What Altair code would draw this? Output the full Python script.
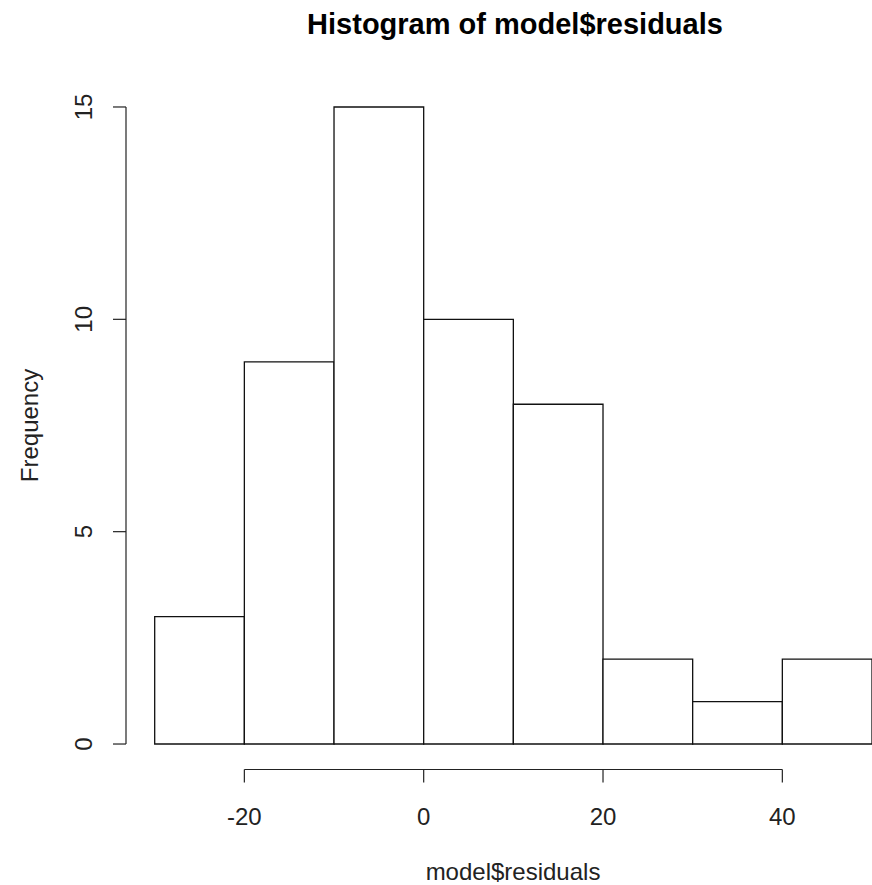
import altair as alt
import pandas as pd

bin_start = [-30, -20, -10, 0, 10, 20, 30, 40]
bin_end = [-20, -10, 0, 10, 20, 30, 40, 50]
counts = [3, 9, 15, 10, 8, 2, 1, 2]
x_ticks = [-20, 0, 20, 40]
y_ticks = [0, 5, 10, 15]

W, H = 746, 688
FONT = "Liberation Sans"
FS = 24

bars_df = pd.DataFrame({"x": bin_start, "x2": bin_end, "n": counts, "z": [0] * len(counts)})
xt_df = pd.DataFrame({"v": x_ticks, "lab": [str(v) for v in x_ticks]})
yt_df = pd.DataFrame({"v": y_ticks, "lab": [str(v) for v in y_ticks]})

xs = alt.Scale(domain=[-33.2, 50.0], nice=False, zero=False)
ys = alt.Scale(domain=[-0.6, 15.6], nice=False, zero=False)

bars = alt.Chart(bars_df).mark_rect(fill="white", stroke="#111", strokeWidth=1.3).encode(
    x=alt.X("x:Q", scale=xs, axis=None),
    x2="x2:Q",
    y=alt.Y("z:Q", scale=ys, axis=None),
    y2="n:Q",
)

# x axis
xline = alt.Chart(pd.DataFrame({"a": [min(x_ticks)], "b": [max(x_ticks)]})).mark_rule(
    color="#222", strokeWidth=1.2).encode(
    x=alt.X("a:Q", scale=xs, axis=None), x2="b:Q", y=alt.value(H))
xtick = alt.Chart(xt_df).mark_rule(color="#222", strokeWidth=1.2).encode(
    x=alt.X("v:Q", scale=xs, axis=None), y=alt.value(H), y2=alt.value(H + 13))
xlab = alt.Chart(xt_df).mark_text(font=FONT, fontSize=FS, baseline="alphabetic", align="center",
                                  color="#222").encode(
    x=alt.X("v:Q", scale=xs, axis=None), y=alt.value(H + 55), text="lab:N")

# y axis
yline = alt.Chart(pd.DataFrame({"a": [min(y_ticks)], "b": [max(y_ticks)]})).mark_rule(
    color="#222", strokeWidth=1.2).encode(
    y=alt.Y("a:Q", scale=ys, axis=None), y2="b:Q", x=alt.value(0))
ytick = alt.Chart(yt_df).mark_rule(color="#222", strokeWidth=1.2).encode(
    y=alt.Y("v:Q", scale=ys, axis=None), x=alt.value(0), x2=alt.value(-13))
ylab = alt.Chart(yt_df).mark_text(font=FONT, fontSize=FS, baseline="middle", align="center",
                                  angle=270, color="#222").encode(
    y=alt.Y("v:Q", scale=ys, axis=None), x=alt.value(-41), text="lab:N")

title = alt.Chart(pd.DataFrame({"t": ["Histogram of model$residuals"]})).mark_text(
    font=FONT, fontSize=29, fontWeight="bold", baseline="alphabetic", align="center", color="black"
).encode(x=alt.value(389), y=alt.value(-47.5), text="t:N")
xtitle = alt.Chart(pd.DataFrame({"t": ["model$residuals"]})).mark_text(
    font=FONT, fontSize=FS, baseline="alphabetic", align="center", color="#222"
).encode(x=alt.value(387), y=alt.value(798), text="t:N")
ytitle = alt.Chart(pd.DataFrame({"t": ["Frequency"]})).mark_text(
    font=FONT, fontSize=FS, baseline="alphabetic", align="center", angle=270, color="#222"
).encode(x=alt.value(-88), y=alt.value(344), text="t:N")

chart = alt.layer(bars, xline, xtick, xlab, yline, ytick, ylab, title, xtitle, ytitle).properties(
    width=W, height=H,
    autosize=alt.AutoSizeParams(type="none"),
    padding={"left": 126, "top": 81.5, "right": 0, "bottom": 115},
).configure_view(stroke=None)

chart.save("out.html", embed_options={"renderer": "svg", "actions": False})
